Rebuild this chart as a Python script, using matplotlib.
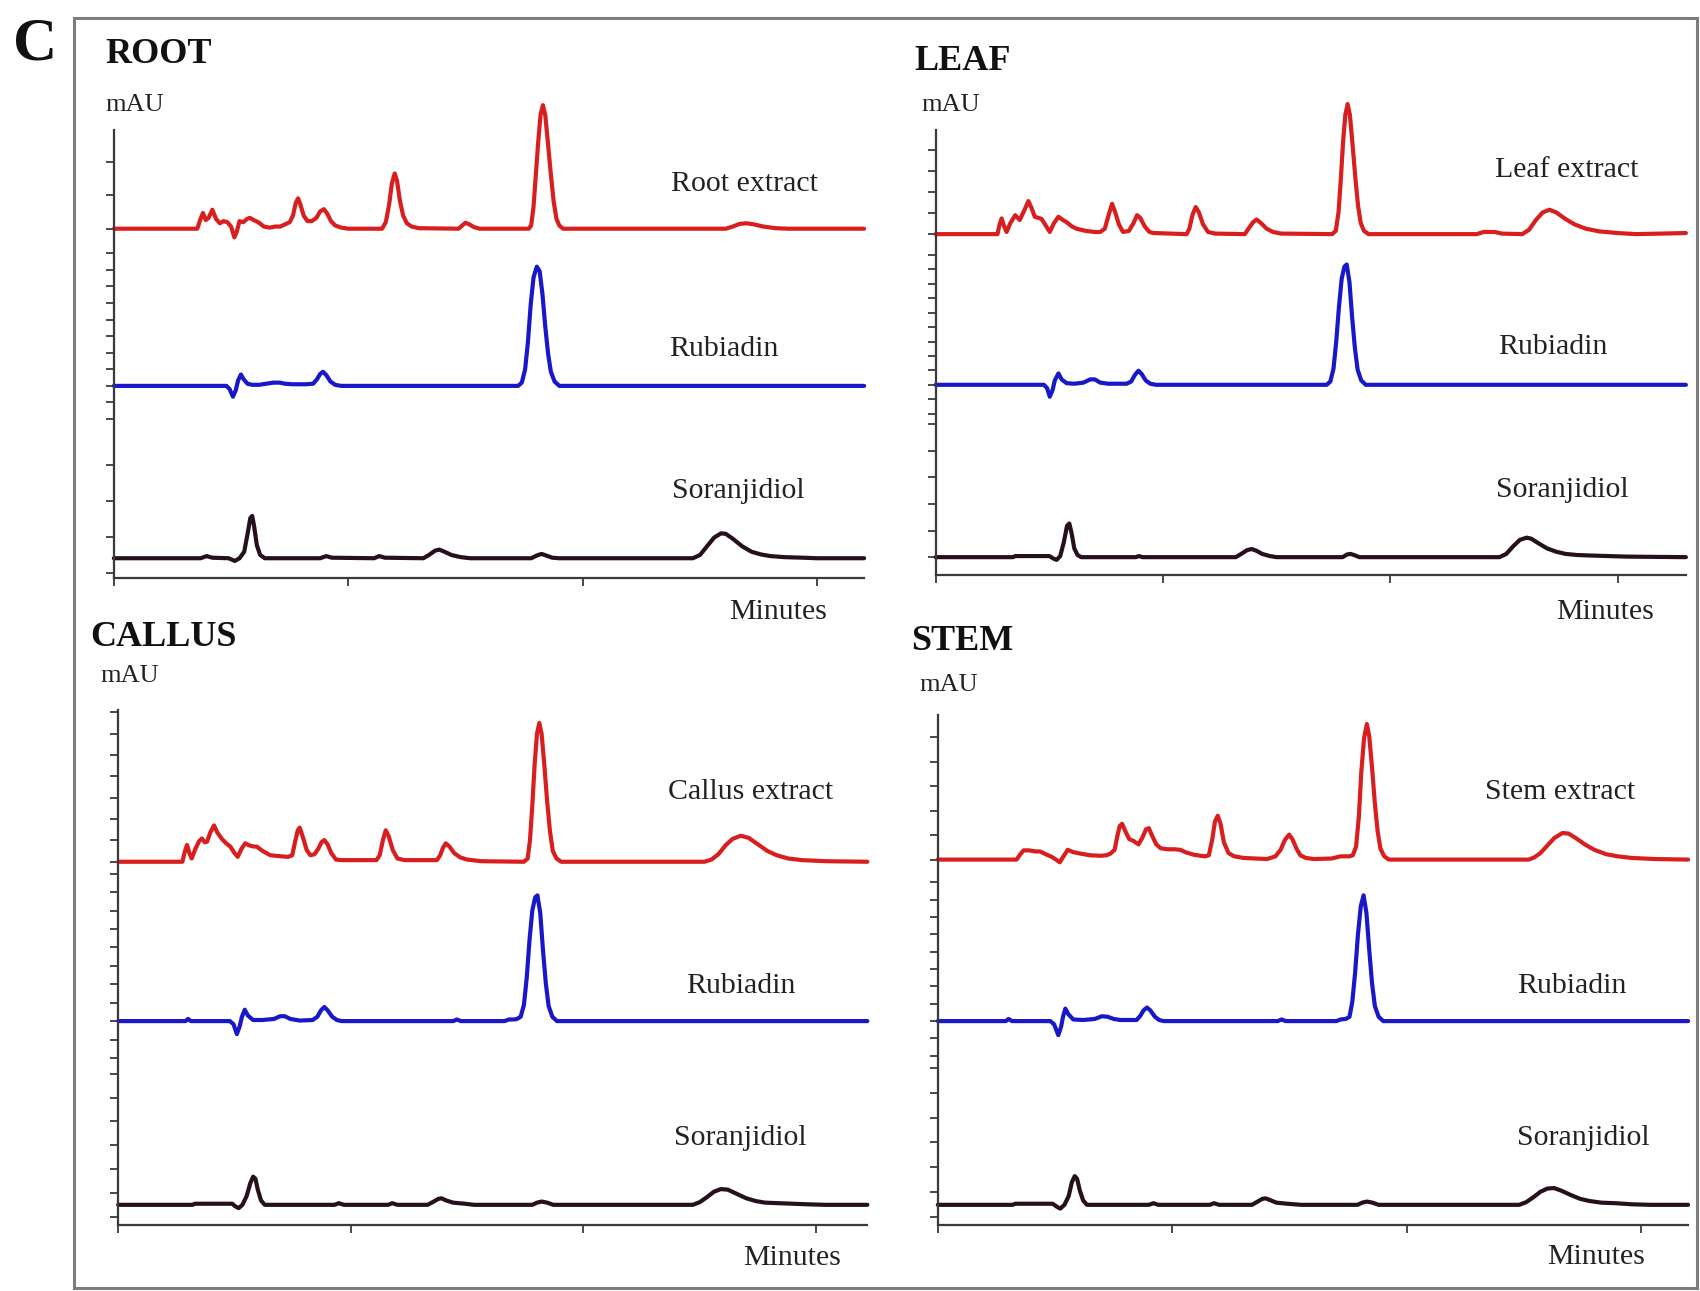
import matplotlib
matplotlib.use("Agg")
import matplotlib.pyplot as plt
import numpy as np
from matplotlib.patches import Rectangle

# ---------------- data: (minutes, signal) ----------------
ROOT_EXTRACT = [(0, 0), (1.78, 0), (1.84, 8), (1.90, 14.5), (1.96, 8), (2.02, 10), (2.10, 17.5), (2.18, 9),
                (2.26, 5), (2.34, 7), (2.42, 6), (2.50, 2), (2.57, -8), (2.62, -3), (2.68, 7), (2.76, 6),
                (2.84, 9), (2.90, 10), (2.98, 8), (3.08, 6), (3.20, 2), (3.32, 1), (3.45, 2), (3.55, 2),
                (3.65, 4), (3.75, 6), (3.82, 12), (3.88, 24), (3.93, 28), (3.98, 22), (4.05, 12), (4.13, 7),
                (4.22, 7), (4.32, 10), (4.40, 16), (4.48, 18), (4.55, 14), (4.63, 7), (4.72, 3), (4.85, 1),
                (5.00, 0), (5.72, 0), (5.80, 6), (5.87, 22), (5.93, 42), (5.99, 51), (6.04, 44), (6.10, 26),
                (6.17, 12), (6.25, 5), (6.35, 2), (6.50, 0.5), (7.35, 0), (7.43, 3), (7.50, 5.5), (7.58, 4),
                (7.68, 1.5), (7.80, 0), (8.85, 0), (8.90, 3), (8.95, 20), (9.00, 50), (9.05, 80), (9.10, 105),
                (9.15, 114), (9.20, 105), (9.26, 78), (9.32, 50), (9.38, 25), (9.44, 9), (9.50, 3), (9.58, 0),
                (13.05, 0), (13.2, 2), (13.35, 4.5), (13.5, 5), (13.65, 4), (13.85, 2), (14.1, 0.5), (14.4, 0),
                (16.0, 0)]
ROOT_RUBIADIN = [(0, 0), (2.40, 0), (2.47, -3), (2.54, -10), (2.60, -4), (2.65, 5), (2.71, 10.5), (2.77, 6),
                 (2.85, 2), (2.95, 1), (3.10, 1), (3.25, 2), (3.40, 3), (3.54, 3), (3.65, 2), (3.82, 1.5),
                 (4.10, 1.5), (4.25, 2), (4.33, 6), (4.40, 11), (4.46, 13), (4.53, 10), (4.62, 4), (4.72, 1),
                 (4.85, 0), (8.62, 0), (8.70, 3), (8.77, 15), (8.83, 40), (8.89, 75), (8.95, 100), (9.02, 110),
                 (9.08, 106), (9.14, 85), (9.20, 55), (9.26, 30), (9.32, 13), (9.40, 4), (9.50, 0), (16.0, 0)]
ROOT_SORANJIDIOL = [(0, 0), (1.85, 0), (1.98, 2), (2.10, 0.5), (2.45, 0), (2.58, -2.5), (2.68, 0), (2.78, 6),
                    (2.85, 22), (2.91, 37), (2.95, 39), (2.99, 30), (3.05, 12), (3.12, 3), (3.22, 0), (4.40, 0),
                    (4.53, 2), (4.65, 0.5), (5.55, 0), (5.66, 2), (5.78, 0.5), (6.60, 0), (6.72, 3), (6.85, 7),
                    (6.94, 8), (7.05, 6), (7.20, 3), (7.40, 1), (7.60, 0), (8.90, 0), (9.02, 2.5), (9.12, 4),
                    (9.22, 2.5), (9.35, 0.5), (9.50, 0), (12.35, 0), (12.5, 3), (12.65, 11), (12.8, 19),
                    (12.95, 23), (13.05, 22.5), (13.2, 18), (13.4, 11), (13.6, 6), (13.8, 3.5), (14.0, 2),
                    (14.3, 1), (14.7, 0.5), (15.0, 0), (16.0, 0)]

LEAF_EXTRACT = [(0, 0), (1.36, 0), (1.40, 8), (1.45, 14.5), (1.50, 8), (1.56, 2), (1.64, 10), (1.75, 17.5),
                (1.85, 13), (1.95, 22), (2.04, 30.5), (2.11, 24), (2.18, 16), (2.26, 15), (2.33, 14), (2.42, 8),
                (2.51, 2), (2.60, 10), (2.70, 16), (2.80, 13), (2.88, 11), (3.00, 7), (3.10, 5), (3.30, 3),
                (3.50, 2), (3.62, 2), (3.72, 5), (3.80, 17), (3.88, 28), (3.95, 20), (4.03, 9), (4.12, 2),
                (4.25, 3), (4.35, 10), (4.43, 17.5), (4.50, 15), (4.60, 7), (4.70, 2), (4.80, 1), (5.52, 0),
                (5.58, 5), (5.65, 18), (5.72, 25), (5.79, 20), (5.88, 9), (5.99, 2), (6.15, 0.5), (6.80, 0),
                (6.88, 5), (6.98, 11), (7.06, 13.5), (7.16, 10), (7.28, 5), (7.42, 2), (7.60, 0.5), (8.72, 0),
                (8.80, 3), (8.86, 20), (8.91, 50), (8.96, 85), (9.01, 110), (9.06, 120), (9.11, 110),
                (9.17, 82), (9.23, 52), (9.29, 26), (9.35, 10), (9.42, 3), (9.52, 0), (11.9, 0), (12.05, 2),
                (12.3, 2), (12.45, 0.5), (12.9, 0), (13.05, 4), (13.2, 13), (13.35, 20), (13.5, 22.5),
                (13.65, 20), (13.85, 14), (14.05, 9), (14.3, 5), (14.6, 2.5), (15.0, 1), (15.4, 0), (16.5, 1)]
LEAF_RUBIADIN = [(0, 0), (2.38, 0), (2.45, -3), (2.51, -11), (2.57, -5), (2.62, 4), (2.70, 10.5), (2.77, 5),
                 (2.88, 1.5), (3.05, 1), (3.25, 2), (3.40, 5), (3.50, 5), (3.62, 2), (3.80, 1), (4.20, 1),
                 (4.30, 3), (4.38, 9), (4.46, 13), (4.53, 10), (4.62, 4), (4.72, 1), (4.85, 0), (8.60, 0),
                 (8.68, 3), (8.75, 15), (8.81, 40), (8.87, 72), (8.93, 98), (8.99, 109), (9.04, 111),
                 (9.10, 95), (9.16, 62), (9.22, 34), (9.28, 14), (9.36, 4), (9.46, 0), (16.5, 0)]
LEAF_SORANJIDIOL = [(0, 0), (1.70, 0), (1.75, 1), (2.50, 1), (2.60, -1.5), (2.66, -2.5), (2.74, 1), (2.82, 14),
                    (2.89, 29), (2.94, 31), (2.99, 22), (3.05, 8), (3.12, 2), (3.20, 0), (4.40, 0), (4.47, 1),
                    (4.55, 0), (6.60, 0), (6.72, 3), (6.85, 6.5), (6.95, 7.5), (7.05, 6), (7.18, 3), (7.35, 1),
                    (7.50, 0), (8.95, 0), (9.05, 2.5), (9.12, 3), (9.20, 2), (9.32, 0), (12.4, 0), (12.55, 3),
                    (12.7, 10), (12.85, 16), (13.0, 18), (13.1, 17), (13.25, 13), (13.45, 8), (13.65, 5),
                    (13.85, 3), (14.1, 2), (14.4, 1.5), (14.8, 1), (15.2, 0.5), (16.5, 0)]

CALLUS_EXTRACT = [(0, 0), (1.38, 0), (1.43, 9), (1.48, 15.5), (1.53, 8), (1.58, 3), (1.66, 12), (1.74, 19),
                  (1.80, 21.5), (1.86, 18), (1.91, 18.5), (1.98, 27), (2.06, 33.5), (2.13, 27), (2.23, 21),
                  (2.32, 17), (2.41, 14), (2.50, 8), (2.57, 4.5), (2.65, 12), (2.73, 17), (2.82, 15),
                  (2.92, 14), (2.98, 14), (3.10, 10), (3.27, 6), (3.50, 5), (3.65, 4.5), (3.74, 6), (3.80, 18),
                  (3.86, 29), (3.90, 31.5), (3.96, 24), (4.05, 11), (4.13, 6), (4.22, 7), (4.30, 12),
                  (4.37, 18), (4.43, 20), (4.50, 16), (4.58, 8), (4.68, 2), (4.80, 1.5), (5.55, 1.5),
                  (5.62, 6), (5.69, 20), (5.75, 29), (5.81, 24), (5.90, 11), (6.00, 3), (6.15, 1.5),
                  (6.85, 1.5), (6.92, 6), (6.98, 13), (7.04, 17), (7.12, 14), (7.22, 8), (7.35, 4), (7.50, 2),
                  (7.80, 0.5), (8.72, 0), (8.80, 3), (8.85, 20), (8.90, 52), (8.95, 90), (9.00, 118),
                  (9.05, 128), (9.10, 118), (9.16, 88), (9.22, 55), (9.28, 28), (9.34, 10), (9.42, 3),
                  (9.52, 0), (12.6, 0), (12.75, 2), (12.9, 7), (13.05, 15), (13.2, 21), (13.38, 24),
                  (13.55, 22), (13.75, 16), (13.95, 10), (14.15, 6), (14.4, 3), (14.7, 1.5), (15.2, 0.5),
                  (16.1, 0)]
CALLUS_RUBIADIN = [(0, 0), (1.45, 0), (1.50, 2), (1.56, 0), (2.40, 0), (2.48, -3), (2.55, -12), (2.61, -5),
                   (2.66, 4), (2.72, 10.5), (2.79, 5), (2.90, 1), (3.10, 1), (3.35, 2), (3.48, 4.5),
                   (3.58, 4.5), (3.70, 2), (3.90, 0.5), (4.18, 1), (4.28, 4), (4.36, 10), (4.43, 13),
                   (4.50, 10), (4.60, 4), (4.70, 1), (4.80, 0), (7.20, 0), (7.28, 1.5), (7.36, 0), (8.30, 0),
                   (8.40, 1.5), (8.50, 1.5), (8.57, 2), (8.65, 4), (8.72, 15), (8.78, 40), (8.84, 75),
                   (8.90, 102), (8.96, 114), (9.01, 116), (9.07, 100), (9.13, 65), (9.19, 35), (9.25, 14),
                   (9.33, 4), (9.43, 0), (16.1, 0)]
CALLUS_SORANJIDIOL = [(0, 0), (1.60, 0), (1.65, 1), (2.45, 1), (2.52, -1.5), (2.59, -3), (2.67, 0), (2.76, 8),
                      (2.84, 20), (2.90, 26), (2.95, 24), (3.00, 14), (3.07, 4), (3.15, 0), (4.65, 0),
                      (4.74, 1.5), (4.85, 0), (5.80, 0), (5.89, 1.5), (6.00, 0), (6.65, 0), (6.78, 3),
                      (6.88, 5.5), (6.95, 6), (7.05, 4), (7.20, 2), (7.45, 1), (7.65, 0), (8.90, 0), (9.00, 2),
                      (9.10, 3), (9.22, 2), (9.35, 0), (12.35, 0), (12.5, 2.5), (12.65, 7), (12.8, 12),
                      (12.95, 14.5), (13.1, 14), (13.3, 10), (13.5, 6), (13.7, 3.5), (13.9, 2), (14.2, 1.5),
                      (14.5, 1), (14.8, 0.5), (15.2, 0), (16.1, 0)]

STEM_EXTRACT = [(0, 0), (1.68, 0), (1.76, 5), (1.83, 8.5), (1.95, 8.5), (2.08, 7.5), (2.18, 7.5), (2.30, 5),
                (2.43, 2.5), (2.52, 0), (2.60, -2.5), (2.68, 3), (2.77, 9), (2.88, 7), (3.04, 5.5), (3.25, 4),
                (3.47, 3.5), (3.60, 4), (3.68, 5.5), (3.77, 9), (3.83, 22), (3.88, 31), (3.93, 33), (3.99, 27),
                (4.08, 19), (4.18, 17), (4.28, 14), (4.36, 20), (4.44, 28), (4.50, 29), (4.57, 22),
                (4.66, 14), (4.75, 10.5), (4.90, 9.5), (5.05, 9.5), (5.17, 9), (5.30, 6.5), (5.46, 4.5),
                (5.60, 3.5), (5.70, 3), (5.78, 4), (5.85, 18), (5.91, 35), (5.97, 40.5), (6.03, 33),
                (6.10, 16), (6.20, 6), (6.32, 3), (6.52, 1.5), (7.02, 0.5), (7.20, 3), (7.31, 9), (7.40, 18),
                (7.49, 23), (7.56, 19), (7.65, 10), (7.73, 4), (7.85, 1.5), (8.02, 0.5), (8.40, 1),
                (8.59, 3), (8.78, 3), (8.85, 4), (8.92, 12), (8.98, 40), (9.03, 80), (9.09, 112),
                (9.15, 125), (9.20, 114), (9.26, 85), (9.32, 52), (9.38, 26), (9.44, 10), (9.52, 3),
                (9.62, 0), (12.6, 0), (12.72, 2), (12.85, 6), (13.0, 13), (13.15, 20), (13.32, 24.5),
                (13.45, 24), (13.6, 20), (13.8, 14), (14.0, 9), (14.25, 5), (14.5, 3), (14.8, 1.5),
                (15.3, 0.5), (16.0, 0)]
STEM_RUBIADIN = [(0, 0), (1.45, 0), (1.51, 2), (1.58, 0), (2.40, 0), (2.48, -3), (2.57, -13), (2.63, -5),
                 (2.67, 4), (2.72, 11.5), (2.79, 6), (2.89, 1.5), (3.10, 1), (3.35, 2), (3.50, 4.5),
                 (3.62, 4), (3.75, 2), (3.89, 1), (4.24, 1), (4.32, 5), (4.39, 10), (4.46, 12.5), (4.53, 10),
                 (4.63, 4), (4.72, 1), (4.82, 0), (7.25, 0), (7.33, 1.5), (7.42, 0), (8.50, 0), (8.59, 1.5),
                 (8.70, 2), (8.78, 4), (8.84, 18), (8.90, 45), (8.96, 80), (9.02, 106), (9.08, 116),
                 (9.14, 100), (9.20, 66), (9.26, 35), (9.32, 14), (9.40, 4), (9.50, 0), (16.0, 0)]
STEM_SORANJIDIOL = [(0, 0), (1.60, 0), (1.65, 1), (2.45, 1), (2.53, -1.5), (2.61, -3.5), (2.70, 0), (2.79, 8),
                    (2.86, 21), (2.92, 26.5), (2.97, 24), (3.03, 13), (3.10, 4), (3.18, 0), (4.50, 0),
                    (4.60, 1.5), (4.70, 0), (5.80, 0), (5.89, 1.5), (6.00, 0), (6.70, 0), (6.82, 3),
                    (6.92, 5.5), (6.99, 6), (7.08, 4.5), (7.22, 2), (7.45, 1), (7.75, 0), (8.95, 0), (9.05, 2),
                    (9.15, 3), (9.27, 2), (9.40, 0), (12.4, 0), (12.55, 2.5), (12.7, 7), (12.85, 12),
                    (13.0, 15), (13.14, 15.5), (13.3, 13), (13.5, 9), (13.7, 5.5), (13.9, 3.5), (14.15, 2),
                    (14.45, 1.5), (14.8, 0.5), (15.2, 0), (16.0, 0)]

PANEL_TITLES = ["ROOT", "LEAF", "CALLUS", "STEM"]
TRACE_LABELS = [["Root extract", "Rubiadin", "Soranjidiol"],
                ["Leaf extract", "Rubiadin", "Soranjidiol"],
                ["Callus extract", "Rubiadin", "Soranjidiol"],
                ["Stem extract", "Rubiadin", "Soranjidiol"]]
TRACES = [[ROOT_EXTRACT, ROOT_RUBIADIN, ROOT_SORANJIDIOL],
          [LEAF_EXTRACT, LEAF_RUBIADIN, LEAF_SORANJIDIOL],
          [CALLUS_EXTRACT, CALLUS_RUBIADIN, CALLUS_SORANJIDIOL],
          [STEM_EXTRACT, STEM_RUBIADIN, STEM_SORANJIDIOL]]
X_TICKS = [0, 5, 10, 15]

# ---------------- layout (reference pixel coordinates of a 1568x1191 view) ----------------
W, H = 1568.0, 1191.0
def fx(x):
    return x / W
def fy(y):
    return 1 - y / H

# yt entries: (trace baseline, tick spacing, first k, last k)
LAYOUT = [
    dict(box=(105, 120, 797, 533), xmax=16.0, offsets=(322, 177, 18),
         yt=[(322, 31, 0, 3), (177, 15.3, -2, 8), (18, 33, -0.4, 3)],
         title=(97, 50), mau=(97, 97), labels=[(687, 170), (668, 322), (681, 453)], minutes=(718, 565)),
    dict(box=(863, 120, 1555, 530), xmax=16.5, offsets=(314, 175, 16),
         yt=[(314, 19.5, 0, 4), (175, 13.3, -2, 9), (16, 24.5, 0, 5)],
         title=(843, 57), mau=(850, 97), labels=[(1445, 157), (1432, 320), (1441, 452)], minutes=(1480, 565)),
    dict(box=(109, 655, 800, 1130), xmax=16.1, offsets=(335, 188, 18.5),
         yt=[(335, 19.7, 0, 7), (188, 17, -2, 8), (18.5, 22, -0.5, 6)],
         title=(83, 588), mau=(93, 624), labels=[(692, 731), (683, 910), (683, 1050)], minutes=(731, 1161)),
    dict(box=(865, 660, 1557, 1130), xmax=16.0, offsets=(337, 188, 18.5),
         yt=[(337, 22.6, 0, 5), (188, 16, -2, 8), (18.5, 23, -0.5, 6)],
         title=(840, 592), mau=(848, 632), labels=[(1439, 731), (1450, 910), (1460, 1050)], minutes=(1472, 1160)),
]
COLORS = ["#d81e1e", "#1818c8", "#26101e"]
SERIF = ["Liberation Serif", "DejaVu Serif"]

fig = plt.figure(figsize=(17, 12.91), dpi=100)
fig.patch.set_facecolor("white")

# outer frame
fig.patches.append(Rectangle((fx(68), fy(1188)), fx(1565) - fx(68), fy(17) - fy(1188),
                             transform=fig.transFigure, fill=False, ec="#7d7d7d", lw=2.2))
fig.text(fx(12), fy(41), "C", family=SERIF, weight="bold", fontsize=44, ha="left", va="center", color="#111")

for title, labels, traces, lay in zip(PANEL_TITLES, TRACE_LABELS, TRACES, LAYOUT):
    l, t, r, b = lay["box"]
    ax = fig.add_axes([fx(l), fy(b), fx(r) - fx(l), fy(t) - fy(b)])
    ax.set_xlim(0, lay["xmax"])
    ax.set_ylim(0, b - t)
    for s in ("top", "right"):
        ax.spines[s].set_visible(False)
    for s in ("left", "bottom"):
        ax.spines[s].set_linewidth(1.6)
        ax.spines[s].set_color("#3a3a3a")
    ax.set_xticks(X_TICKS)
    ax.set_xticklabels([])
    yt = []
    for off, step, k0, k1 in lay["yt"]:
        for k in np.arange(k0, k1 + 0.01, 1.0):
            v = off + k * step
            if 0 <= v <= b - t:
                yt.append(round(v, 2))
    ax.set_yticks(sorted(set(yt)))
    ax.set_yticklabels([])
    ax.tick_params(axis="both", direction="out", length=6, width=1.3, color="#3a3a3a")
    ax.patch.set_alpha(0)

    for data, off, col in zip(traces, lay["offsets"], COLORS):
        tt = np.array([p[0] for p in data])
        yy = np.array([p[1] for p in data]) + off
        ax.plot(tt, yy, color=col, lw=3.0, solid_joinstyle="round", solid_capstyle="round", clip_on=False)

    fig.text(fx(lay["title"][0]), fy(lay["title"][1]), title, family=SERIF, weight="bold",
             fontsize=26, ha="left", va="center", color="#111")
    fig.text(fx(lay["mau"][0]), fy(lay["mau"][1]), "mAU", family=SERIF, fontsize=19,
             ha="left", va="center", color="#222")
    for lab, (x, y) in zip(labels, lay["labels"]):
        fig.text(fx(x), fy(y), lab, family=SERIF, fontsize=21.5, ha="center", va="center", color="#222")
    fig.text(fx(lay["minutes"][0]), fy(lay["minutes"][1]), "Minutes", family=SERIF, fontsize=21.5,
             ha="center", va="center", color="#222")

fig.savefig("out.png", dpi=100, facecolor="white")
